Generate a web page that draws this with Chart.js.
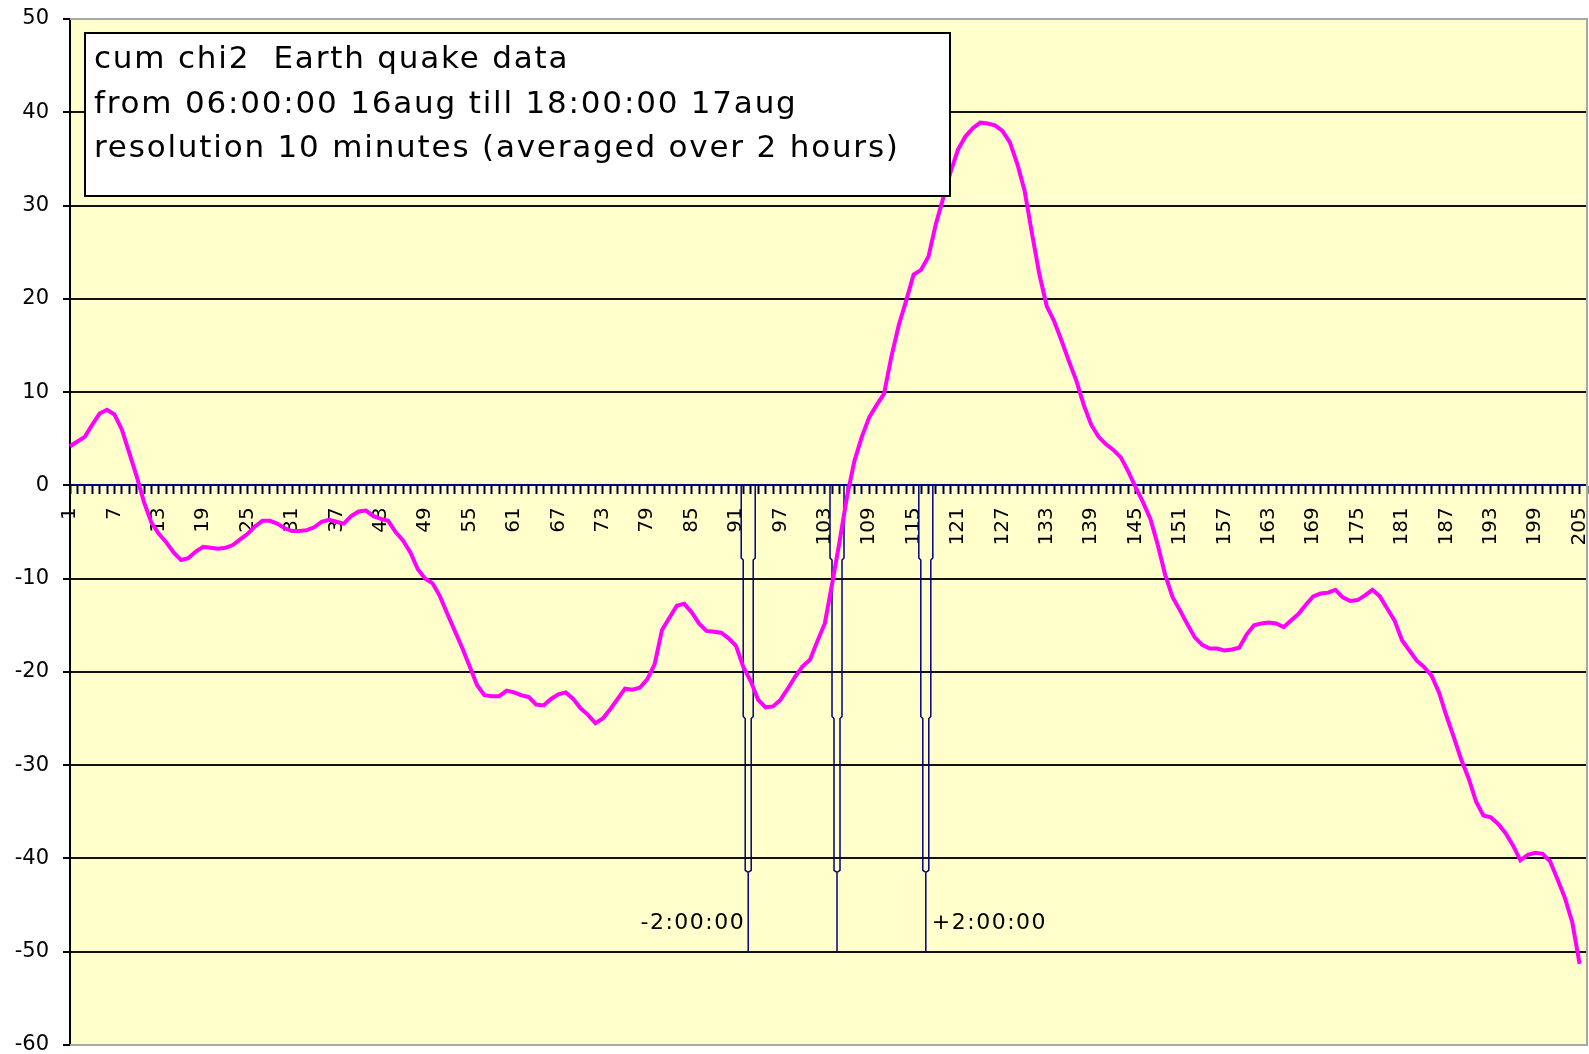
<!DOCTYPE html>
<html>
<head>
<meta charset="utf-8">
<title>cum chi2 Earth quake data</title>
<script src="https://cdn.jsdelivr.net/npm/chart.js@4.4.1/dist/chart.umd.min.js"></script>
<style>
  html, body { margin: 0; padding: 0; background: #fff; }
  #wrap { width: 1589px; height: 1054px; }
</style>
</head>
<body>
<div id="wrap"><canvas id="quakeChart" width="1589" height="1054"></canvas></div>
<script>
// cum chi2 curve, one point per 10 minute step

const categories = [
  '1','2','3','4','5','6','7','8','9','10','11','12','13','14','15','16','17','18','19','20',
  '21','22','23','24','25','26','27','28','29','30','31','32','33','34','35','36','37','38','39','40',
  '41','42','43','44','45','46','47','48','49','50','51','52','53','54','55','56','57','58','59','60',
  '61','62','63','64','65','66','67','68','69','70','71','72','73','74','75','76','77','78','79','80',
  '81','82','83','84','85','86','87','88','89','90','91','92','93','94','95','96','97','98','99','100',
  '101','102','103','104','105','106','107','108','109','110','111','112','113','114','115','116','117','118','119','120',
  '121','122','123','124','125','126','127','128','129','130','131','132','133','134','135','136','137','138','139','140',
  '141','142','143','144','145','146','147','148','149','150','151','152','153','154','155','156','157','158','159','160',
  '161','162','163','164','165','166','167','168','169','170','171','172','173','174','175','176','177','178','179','180',
  '181','182','183','184','185','186','187','188','189','190','191','192','193','194','195','196','197','198','199','200',
  '201','202','203','204','205','206'
];

// labels that are actually printed under the axis
const shownTicks = [
  '1','7','13','19','25','31','37','43','49','55','61','67','73','79','85','91','97','103',
  '109','115','121','127','133','139','145','151','157','163','169','175','181','187','193','199','205'
];

const chi2 = [
  4.2, 4.7, 5.2, 6.5, 7.7, 8.1, 7.6, 6.0, 3.5, 1.0,
  -1.8, -4.0, -5.2, -6.1, -7.2, -8.0, -7.8, -7.1, -6.6, -6.7,
  -6.8, -6.7, -6.4, -5.8, -5.2, -4.4, -3.8, -3.8, -4.1, -4.6,
  -4.9, -4.9, -4.8, -4.5, -3.9, -3.7, -3.9, -4.1, -3.3, -2.8,
  -2.7, -3.3, -3.6, -3.8, -5.0, -5.9, -7.2, -9.0, -10.0, -10.5,
  -11.9, -13.8, -15.6, -17.4, -19.4, -21.4, -22.5, -22.6, -22.6, -22.0,
  -22.2, -22.5, -22.7, -23.5, -23.6, -22.9, -22.4, -22.2, -22.9, -23.9,
  -24.6, -25.5, -25.0, -24.0, -22.9, -21.8, -21.9, -21.7, -20.8, -19.2,
  -15.5, -14.2, -12.9, -12.7, -13.6, -14.8, -15.6, -15.7, -15.8, -16.4,
  -17.2, -19.5, -21.0, -23.0, -23.8, -23.7, -23.0, -21.8, -20.5, -19.4,
  -18.7, -16.7, -14.8, -10.5, -6.0, -1.2, 2.6, 5.2, 7.3, 8.6,
  9.8, 13.8, 17.2, 19.8, 22.6, 23.1, 24.5, 28.0, 30.8, 33.6,
  36.0, 37.4, 38.3, 38.9, 38.8, 38.6, 38.0, 36.8, 34.5, 31.6,
  27.0, 22.6, 19.2, 17.6, 15.5, 13.3, 11.2, 8.6, 6.5, 5.2,
  4.4, 3.8, 3.0, 1.5, -0.2, -1.8, -3.6, -6.4, -9.6, -12.0,
  -13.4, -14.9, -16.3, -17.1, -17.5, -17.5, -17.7, -17.6, -17.4, -16.0,
  -15.0, -14.8, -14.7, -14.8, -15.2, -14.5, -13.8, -12.8, -11.9, -11.6,
  -11.5, -11.2, -12.0, -12.4, -12.3, -11.8, -11.2, -11.9, -13.2, -14.5,
  -16.6, -17.7, -18.8, -19.5, -20.4, -22.2, -24.7, -27.0, -29.4, -31.4,
  -33.9, -35.4, -35.6, -36.3, -37.3, -38.6, -40.2, -39.6, -39.4, -39.5,
  -40.3, -42.2, -44.2, -46.8, -51.3
];

// quake time and the +-2 hour marks (category position)
const markerCats = [92.65, 104.65, 116.65];
// y values where the marker outline narrows
const markerSteps = [0, -8, -25, -41.5, -50];
const offsetLabels = ['-2:00:00', '+2:00:00'];
const offsetLabelValue = -47;

const infoLines = [
  'cum chi2  Earth quake data',
  'from 06:00:00 16aug till 18:00:00 17aug',
  'resolution 10 minutes (averaged over 2 hours)'
];

const yMin = -60;
const yMax = 50;
const yStep = 10;

const FONT = '"DejaVu Sans", Verdana, sans-serif';

const plotFrame = {
  id: 'plotFrame',
  beforeDraw(chart) {
    const { ctx, chartArea: a } = chart;
    ctx.save();
    ctx.fillStyle = '#ffffcc';
    ctx.fillRect(a.left, a.top, a.right - a.left, a.bottom - a.top);
    ctx.restore();
  },
  beforeDatasetsDraw(chart) {
    const { ctx, chartArea: a, scales } = chart;
    const x = scales.x, y = scales.y;
    ctx.save();
    // grey frame on top, right, bottom
    ctx.strokeStyle = '#a8a8a8';
    ctx.lineWidth = 2;
    ctx.beginPath();
    ctx.moveTo(a.left, a.top);
    ctx.lineTo(a.right, a.top);
    ctx.lineTo(a.right, a.bottom);
    ctx.lineTo(a.left, a.bottom);
    ctx.stroke();

    // quake markers
    const halfW = [7, 5, 3];
    ctx.strokeStyle = '#000080';
    ctx.lineWidth = 1.5;
    markerCats.forEach(c => {
      const cx = x.getPixelForValue(c - 1);
      const ys = markerSteps.map(v => y.getPixelForValue(v));
      [-1, 1].forEach(side => {
        ctx.beginPath();
        ctx.moveTo(cx + side * halfW[0], ys[0]);
        for (let i = 0; i < halfW.length; i++) {
          ctx.lineTo(cx + side * halfW[i], ys[i + 1] - 2);
          ctx.lineTo(cx + side * (halfW[i + 1] || 0), ys[i + 1]);
        }
        ctx.stroke();
      });
      ctx.beginPath();
      ctx.moveTo(cx, ys[3]);
      ctx.lineTo(cx, ys[4]);
      ctx.stroke();
    });

    ctx.fillStyle = '#000';
    ctx.font = '22px ' + FONT;
    ctx.letterSpacing = '1.5px';
    ctx.textBaseline = 'middle';
    const ly = y.getPixelForValue(offsetLabelValue);
    ctx.textAlign = 'right';
    ctx.fillText(offsetLabels[0], x.getPixelForValue(markerCats[0] - 1) - 3, ly);
    ctx.textAlign = 'left';
    ctx.fillText(offsetLabels[1], x.getPixelForValue(markerCats[2] - 1) + 6, ly);
    ctx.restore();
  },
  afterDraw(chart) {
    const { ctx, chartArea: a } = chart;
    ctx.save();
    const bx = a.left + 15, by = a.top + 14, bw = 865, bh = 163;
    ctx.fillStyle = '#fff';
    ctx.fillRect(bx, by, bw, bh);
    ctx.strokeStyle = '#000';
    ctx.lineWidth = 2;
    ctx.strokeRect(bx, by, bw, bh);
    ctx.fillStyle = '#000';
    ctx.font = '31px ' + FONT;
    ctx.letterSpacing = '1.8px';
    ctx.textAlign = 'left';
    ctx.textBaseline = 'alphabetic';
    infoLines.forEach((t, i) => ctx.fillText(t, bx + 9, by + 35 + i * 44.5));
    ctx.restore();
  }
};

new Chart(document.getElementById('quakeChart'), {
  type: 'line',
  data: {
    labels: categories,
    datasets: [{
      data: chi2,
      borderColor: '#ff00ff',
      borderWidth: 4,
      pointRadius: 0,
      tension: 0,
      fill: false
    }]
  },
  options: {
    responsive: false,
    animation: false,
    devicePixelRatio: 1,
    layout: { padding: { top: 19, bottom: 9, left: 0, right: 2 } },
    plugins: { legend: { display: false }, tooltip: { enabled: false } },
    scales: {
      x: {
        type: 'category',
        position: { y: 0 },
        offset: false,
        grid: { display: true, drawOnChartArea: false, tickLength: 8, tickWidth: 2, tickColor: '#000030' },
        border: { display: true, color: '#000080', width: 2 },
        ticks: {
          autoSkip: false,
          minRotation: 90,
          maxRotation: 90,
          padding: 14,
          color: '#000',
          font: { family: FONT, size: 20 },
          callback: (v, i) => shownTicks.includes(categories[i]) ? categories[i] : ''
        },
        afterFit(s) { s.paddingLeft = 0; s.paddingRight = 0; }
      },
      y: {
        min: yMin,
        max: yMax,
        ticks: { stepSize: yStep, padding: 14, color: '#000', font: { family: FONT, size: 21 } },
        grid: {
          color: c => (c.tick && (c.tick.value === yMax || c.tick.value === yMin)) ? 'rgba(0,0,0,0)' : '#111',
          lineWidth: 2,
          tickLength: 7,
          tickColor: '#000',
          tickWidth: 2
        },
        border: { color: '#000', width: 2 },
        afterFit(s) { s.width = 70; s.paddingTop = 0; s.paddingBottom = 0; }
      }
    }
  },
  plugins: [plotFrame]
});
</script>
</body>
</html>
